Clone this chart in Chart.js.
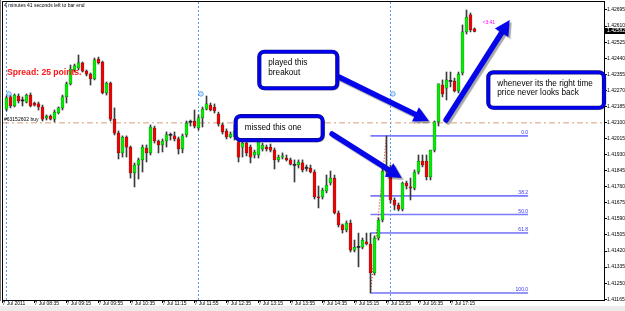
<!DOCTYPE html>
<html>
<head>
<meta charset="utf-8">
<title>EURUSD M5 - 7 Jul 2011</title>
<script src="https://cdn.jsdelivr.net/npm/chart.js@4.4.1/dist/chart.umd.min.js"></script>
<style>
html, body { margin: 0; padding: 0; background: #fff; }
#box { position: relative; width: 625px; height: 311px; }
</style>
</head>
<body>
<div id="box"><canvas id="chart"></canvas></div>
<script>
// M5 candles, bar 1 = 7 Jul 08:00
var firstBar = 1;

var opens = [
  1.42171, 1.42235, 1.42187, 1.42240, 1.42217, 1.42208, 1.42245, 1.42203, 1.42198, 1.42182,
  1.42124, 1.42134, 1.42118, 1.42150, 1.42177, 1.42235, 1.42304, 1.42378, 1.42388, 1.42415,
  1.42372, 1.42356, 1.42330, 1.42436, 1.42420, 1.42256, 1.42309, 1.42118, 1.42044, 1.41939,
  1.42023, 1.41970, 1.41833, 1.41875, 1.41902, 1.41965, 1.41939, 1.42071, 1.42002, 1.41981,
  1.42002, 1.42034, 1.42029, 1.42013, 1.41960, 1.42034, 1.42103, 1.42108, 1.42071, 1.42124,
  1.42171, 1.42192, 1.42182, 1.42145, 1.42087, 1.42055, 1.42023, 1.42023, 1.41997, 1.41970,
  1.41991, 1.41970, 1.41928, 1.41928, 1.41960, 1.41970, 1.41970, 1.41954, 1.41902, 1.41917,
  1.41912, 1.41902, 1.41875, 1.41875, 1.41886, 1.41859, 1.41859, 1.41838, 1.41706, 1.41706,
  1.41738, 1.41780, 1.41806, 1.41621, 1.41558, 1.41531, 1.41568, 1.41425, 1.41441, 1.41441,
  1.41468, 1.41457, 1.41304, 1.41489, 1.41584, 1.41843, 1.41849, 1.41690, 1.41663, 1.41642,
  1.41780, 1.41759, 1.41753, 1.41838, 1.41896, 1.41896, 1.41812, 1.41954, 1.42103, 1.42298,
  1.42282, 1.42319, 1.42319, 1.42267, 1.42362, 1.42579, 1.42669, 1.42595
];
var highs = [
  1.42240, 1.42245, 1.42251, 1.42251, 1.42235, 1.42251, 1.42256, 1.42208, 1.42208, 1.42192,
  1.42140, 1.42140, 1.42166, 1.42182, 1.42245, 1.42314, 1.42404, 1.42409, 1.42457, 1.42420,
  1.42378, 1.42362, 1.42441, 1.42446, 1.42425, 1.42314, 1.42314, 1.42177, 1.42055, 1.42029,
  1.42029, 1.41976, 1.41886, 1.41912, 1.41981, 1.41981, 1.42087, 1.42081, 1.42007, 1.42013,
  1.42050, 1.42044, 1.42050, 1.42023, 1.42039, 1.42108, 1.42113, 1.42166, 1.42140, 1.42182,
  1.42240, 1.42203, 1.42198, 1.42155, 1.42097, 1.42066, 1.42050, 1.42087, 1.42018, 1.42034,
  1.42002, 1.41981, 1.41954, 1.42002, 1.41991, 1.41981, 1.41986, 1.41965, 1.41928, 1.41939,
  1.41928, 1.41912, 1.41902, 1.41902, 1.41902, 1.41875, 1.41875, 1.41849, 1.41764, 1.41753,
  1.41822, 1.41843, 1.41822, 1.41632, 1.41563, 1.41579, 1.41584, 1.41478, 1.41515, 1.41489,
  1.41515, 1.41515, 1.41500, 1.41595, 1.41859, 1.42029, 1.41875, 1.41701, 1.41674, 1.41785,
  1.41790, 1.41806, 1.41849, 1.41928, 1.41928, 1.41928, 1.41954, 1.42108, 1.42304, 1.42325,
  1.42367, 1.42367, 1.42335, 1.42367, 1.42616, 1.42695, 1.42679, 1.42600
];
var lows = [
  1.42161, 1.42177, 1.42182, 1.42203, 1.42187, 1.42203, 1.42182, 1.42187, 1.42166, 1.42108,
  1.42113, 1.42113, 1.42103, 1.42145, 1.42166, 1.42203, 1.42298, 1.42367, 1.42378, 1.42367,
  1.42346, 1.42298, 1.42325, 1.42409, 1.42251, 1.42245, 1.42108, 1.42034, 1.41907, 1.41917,
  1.41917, 1.41806, 1.41759, 1.41801, 1.41838, 1.41891, 1.41928, 1.41991, 1.41939, 1.41944,
  1.41970, 1.42007, 1.42002, 1.41933, 1.41939, 1.42023, 1.42081, 1.42071, 1.42060, 1.42076,
  1.42166, 1.42161, 1.42150, 1.42081, 1.42039, 1.42013, 1.42018, 1.42007, 1.41891, 1.41917,
  1.41923, 1.41886, 1.41912, 1.41912, 1.41949, 1.41949, 1.41944, 1.41854, 1.41891, 1.41907,
  1.41896, 1.41875, 1.41785, 1.41859, 1.41838, 1.41843, 1.41833, 1.41695, 1.41648, 1.41695,
  1.41727, 1.41769, 1.41616, 1.41547, 1.41515, 1.41521, 1.41415, 1.41415, 1.41336, 1.41431,
  1.41452, 1.41198, 1.41293, 1.41478, 1.41574, 1.41822, 1.41674, 1.41637, 1.41632, 1.41632,
  1.41748, 1.41690, 1.41743, 1.41827, 1.41865, 1.41796, 1.41796, 1.41944, 1.42081, 1.42235,
  1.42219, 1.42288, 1.42261, 1.42256, 1.42351, 1.42568, 1.42579, 1.42579
];
var closes = [
  1.42230, 1.42187, 1.42245, 1.42214, 1.42214, 1.42245, 1.42187, 1.42192, 1.42182, 1.42118,
  1.42134, 1.42118, 1.42155, 1.42177, 1.42235, 1.42304, 1.42383, 1.42399, 1.42415, 1.42372,
  1.42356, 1.42330, 1.42431, 1.42415, 1.42256, 1.42309, 1.42118, 1.42044, 1.41939, 1.42023,
  1.41970, 1.41833, 1.41875, 1.41902, 1.41970, 1.41939, 1.42076, 1.42002, 1.41981, 1.42002,
  1.42034, 1.42032, 1.42013, 1.41960, 1.42029, 1.42097, 1.42101, 1.42081, 1.42124, 1.42171,
  1.42198, 1.42166, 1.42161, 1.42092, 1.42050, 1.42023, 1.42039, 1.42055, 1.41917, 1.41991,
  1.41939, 1.41917, 1.41944, 1.41997, 1.41981, 1.41960, 1.41954, 1.41902, 1.41917, 1.41923,
  1.41902, 1.41880, 1.41873, 1.41891, 1.41849, 1.41857, 1.41838, 1.41706, 1.41701, 1.41743,
  1.41769, 1.41806, 1.41621, 1.41558, 1.41531, 1.41568, 1.41425, 1.41441, 1.41439, 1.41478,
  1.41457, 1.41304, 1.41489, 1.41584, 1.41843, 1.41854, 1.41690, 1.41663, 1.41642, 1.41780,
  1.41764, 1.41753, 1.41838, 1.41896, 1.41875, 1.41812, 1.41954, 1.42103, 1.42304, 1.42251,
  1.42325, 1.42317, 1.42267, 1.42356, 1.42579, 1.42658, 1.42589, 1.42582
];

var xTickBars = [0, 8, 16, 24, 32, 40, 48, 56, 64, 72, 80, 88, 96, 104, 112];
var xTickLabels = ['7 Jul 2011', '7 Jul 08:35', '7 Jul 09:15', '7 Jul 09:55', '7 Jul 10:35',
  '7 Jul 11:15', '7 Jul 11:55', '7 Jul 12:35', '7 Jul 13:15', '7 Jul 13:55', '7 Jul 14:35',
  '7 Jul 15:15', '7 Jul 15:55', '7 Jul 16:35', '7 Jul 17:15'];
var yTickLabels = ['1.42695', '1.42610', '1.42525', '1.42440', '1.42355', '1.42270', '1.42185',
  '1.42100', '1.42015', '1.41930', '1.41845', '1.41760', '1.41675', '1.41590', '1.41505',
  '1.41420', '1.41335', '1.41250', '1.41165'];

var eventBars = [1, 49, 97];
var eventPrice = 1.42251;
var tradePrice = 1.42098;
var fibLevels = [0, 38.2, 50, 61.8, 100];
var fibLowBar = 92, fibHighBar = 96, fibEndBar = 131.4;

var FONT = "'Liberation Sans', Arial, sans-serif";
var xMin = 0.125, xMax = 150.375, yMin = 1.411609, yMax = 1.427373;

// candles -> floating bars
var wickData = [], bullData = [], bearData = [], dojiData = [];
for (var i = 0; i < opens.length; i++) {
  var bx = firstBar + i;
  wickData.push({x: bx, y: [lows[i], highs[i]]});
  var pt = {x: bx, y: [opens[i], closes[i]]};
  var d = closes[i] - opens[i];
  if (Math.abs(d) < 0.00004) dojiData.push(pt);
  else if (d > 0) bullData.push(pt);
  else bearData.push(pt);
}

var fibLow = lows[fibLowBar - firstBar];
var fibHigh = highs[fibHighBar - firstBar];
function fibPrice(lvl) { return fibHigh - (fibHigh - fibLow) * lvl / 100; }

var datasets = [
  {type: 'bar', data: wickData, backgroundColor: '#3a3a3a', barThickness: 1, grouped: false, order: 6},
  {type: 'bar', data: bullData, backgroundColor: '#00f000', borderColor: '#1f3f1f', borderWidth: 0.5,
   borderSkipped: false, barThickness: 3, grouped: false, minBarLength: 1, order: 5},
  {type: 'bar', data: bearData, backgroundColor: '#f00000', borderColor: '#3f1f1f', borderWidth: 0.5,
   borderSkipped: false, barThickness: 3, grouped: false, minBarLength: 1, order: 5},
  {type: 'bar', data: dojiData, backgroundColor: '#222', barThickness: 3, grouped: false, minBarLength: 1, order: 5}
];

// vertical event separators
eventBars.forEach(function(b) {
  datasets.push({type: 'line', data: [{x: b, y: yMin}, {x: b, y: yMax}], borderColor: '#4a9cf5',
    borderWidth: 1, borderDash: [2, 2], pointRadius: 0, order: 10});
});
// open order line
datasets.push({type: 'line', data: [{x: xMin, y: tradePrice}, {x: xMax, y: tradePrice}],
  borderColor: '#d4a080', borderWidth: 1, borderDash: [6, 3, 2, 3], pointRadius: 0, order: 9});
// fibonacci levels
fibLevels.forEach(function(l) {
  datasets.push({type: 'line', data: [{x: fibLowBar, y: fibPrice(l)}, {x: fibEndBar, y: fibPrice(l)}],
    borderColor: l > 55 ? '#2c2cf0' : '#7a7aff', borderWidth: l > 55 ? 1 : 1.6, pointRadius: 0, order: 8});
});
// fibo trend line
datasets.push({type: 'line', data: [{x: fibLowBar, y: fibLow}, {x: fibHighBar, y: fibHigh}],
  borderColor: '#ff0000', borderWidth: 1, borderDash: [1, 2], pointRadius: 0, order: 7});

var callouts = [
  {from: [64.2, 1.42474], to: [83.7, 1.42281], lines: ['played this', 'breakout']},
  {from: [58.3, 1.42134], to: [80.05, 1.42007], lines: ['missed this one']},
  {from: [121.45, 1.42365], to: [150.375, 1.42178], lines: ['whenever its the right time', 'price never looks back']}
];
var arrows = [
  {from: [84.1, 1.42341], to: [106.6, 1.42108]},
  {from: [82.4, 1.42039], to: [99.8, 1.41806]},
  {from: [110.9, 1.42113], to: [126.8, 1.42642]}
];

function roundRect(ctx, x, y, w, h, r) {
  ctx.beginPath();
  ctx.moveTo(x + r, y);
  ctx.arcTo(x + w, y, x + w, y + h, r);
  ctx.arcTo(x + w, y + h, x, y + h, r);
  ctx.arcTo(x, y + h, x, y, r);
  ctx.arcTo(x, y, x + w, y, r);
  ctx.closePath();
}

function drawArrow(ctx, x1, y1, x2, y2) {
  var a = Math.atan2(y2 - y1, x2 - x1);
  var head = 15, half = 8;
  var bx = x2 - head * Math.cos(a), by = y2 - head * Math.sin(a);
  ctx.save();
  ctx.shadowColor = 'rgba(0,0,0,0.35)';
  ctx.shadowOffsetX = 2; ctx.shadowOffsetY = 2; ctx.shadowBlur = 1;
  ctx.strokeStyle = '#0606ea';
  ctx.lineWidth = 5.5;
  ctx.lineCap = 'round';
  ctx.beginPath(); ctx.moveTo(x1, y1); ctx.lineTo(bx, by); ctx.stroke();
  ctx.fillStyle = '#0606ea';
  ctx.beginPath();
  ctx.moveTo(x2, y2);
  ctx.lineTo(bx + half * Math.sin(a), by - half * Math.cos(a));
  ctx.lineTo(bx - half * Math.sin(a), by + half * Math.cos(a));
  ctx.closePath(); ctx.fill();
  ctx.restore();
}

var overlay = {
  id: 'overlay',
  beforeDraw: function(chart) {
    var ctx = chart.ctx;
    ctx.save();
    ctx.fillStyle = '#ffffff';
    ctx.fillRect(0, 0, chart.width, chart.height);
    ctx.fillStyle = '#ececec';
    ctx.fillRect(0, 306, chart.width, chart.height - 306);
    ctx.restore();
  },
  afterDatasetsDraw: function(chart) {
    var ctx = chart.ctx, ca = chart.chartArea;
    var sx = chart.scales.x, sy = chart.scales.y;
    ctx.save();

    // frame
    ctx.strokeStyle = '#000';
    ctx.lineWidth = 1;
    ctx.strokeRect(ca.left - 0.5, ca.top - 0.5, ca.right - ca.left + 1, ca.bottom - ca.top + 1);
    ctx.strokeStyle = '#777';
    ctx.beginPath(); ctx.moveTo(0.5, 0); ctx.lineTo(0.5, ca.bottom + 1); ctx.stroke();

    // small texts
    ctx.textBaseline = 'middle';
    ctx.textAlign = 'left';
    ctx.fillStyle = '#000';
    ctx.font = '5px ' + FONT;
    ctx.fillText('4 minutes 41 seconds left to bar end', ca.left + 1, ca.top + 3.5);
    var ty = sy.getPixelForValue(tradePrice);
    ctx.fillText('#63152602 buy', ca.left + 1, ty - 3);

    ctx.fillStyle = '#ff1414';
    ctx.font = 'bold 8.6px ' + FONT;
    ctx.fillText('Spread: 25 points.', ca.left + 4, 73);

    // event markers
    eventBars.forEach(function(b) {
      var ex = sx.getPixelForValue(b) + 2.5, ey = sy.getPixelForValue(eventPrice);
      ctx.strokeStyle = '#4a9cf5';
      ctx.lineWidth = 1;
      ctx.beginPath(); ctx.arc(ex, ey, 2.2, 0, Math.PI * 2); ctx.stroke();
      ctx.fillStyle = '#4a9cf5';
      ctx.fillRect(ex - 0.5, ey - 0.5, 1, 1);
    });

    // fib labels
    ctx.fillStyle = '#3434f4';
    ctx.font = '5px ' + FONT;
    ctx.textAlign = 'right';
    ctx.textBaseline = 'bottom';
    fibLevels.forEach(function(l) {
      ctx.fillText(l.toFixed(1), sx.getPixelForValue(fibEndBar), sy.getPixelForValue(fibPrice(l)) - 0.5);
    });

    // bar timer near last candle
    ctx.textAlign = 'left';
    ctx.textBaseline = 'middle';
    ctx.fillStyle = '#ff00ff';
    ctx.fillText('<3:41', sx.getPixelForValue(opens.length + firstBar + 1), sy.getPixelForValue(1.42626));

    // arrows
    arrows.forEach(function(a) {
      drawArrow(ctx, sx.getPixelForValue(a.from[0]), sy.getPixelForValue(a.from[1]),
        sx.getPixelForValue(a.to[0]), sy.getPixelForValue(a.to[1]));
    });

    // callouts
    callouts.forEach(function(c) {
      var x0 = sx.getPixelForValue(c.from[0]), y0 = sy.getPixelForValue(c.from[1]);
      var x1 = sx.getPixelForValue(c.to[0]), y1 = sy.getPixelForValue(c.to[1]);
      ctx.save();
      ctx.shadowColor = 'rgba(0,0,0,0.35)';
      ctx.shadowOffsetX = 2; ctx.shadowOffsetY = 2; ctx.shadowBlur = 1;
      roundRect(ctx, x0, y0, x1 - x0, y1 - y0, 5);
      ctx.fillStyle = '#fff';
      ctx.fill();
      ctx.restore();
      roundRect(ctx, x0, y0, x1 - x0, y1 - y0, 5);
      ctx.strokeStyle = '#10107a';
      ctx.lineWidth = 4.2;
      ctx.stroke();
      ctx.strokeStyle = '#0000f4';
      ctx.lineWidth = 2.8;
      ctx.stroke();
      ctx.fillStyle = '#000';
      ctx.font = '8.2px ' + FONT;
      ctx.textAlign = 'left';
      ctx.textBaseline = 'middle';
      var h = y1 - y0;
      c.lines.forEach(function(t, j) {
        var yy = c.lines.length === 1 ? y0 + h / 2 : y0 + 11 + j * 9.5;
        ctx.fillText(t, x0 + 9, yy);
      });
    });

    // current price box
    var cp = closes[closes.length - 1];
    var cy = sy.getPixelForValue(cp);
    ctx.fillStyle = '#000';
    ctx.fillRect(ca.right + 1, Math.round(cy) - 3, chart.width - ca.right - 1, 6);
    ctx.fillStyle = '#fff';
    ctx.font = '5px ' + FONT;
    ctx.fillText(cp.toFixed(5), ca.right + 3, Math.round(cy));

    ctx.restore();
  }
};

new Chart(document.getElementById('chart'), {
  data: {datasets: datasets},
  options: {
    animation: false,
    responsive: true,
    maintainAspectRatio: false,
    devicePixelRatio: 1,
    events: [],
    layout: {padding: {left: 3, top: 2, right: 0, bottom: 0}},
    plugins: {legend: {display: false}, tooltip: {enabled: false}},
    scales: {
      x: {
        type: 'linear', position: 'bottom', min: xMin, max: xMax, offset: false,
        grid: {display: true, drawOnChartArea: false, drawTicks: true, tickLength: 3, color: '#000', offset: false},
        border: {display: false},
        ticks: {
          autoSkip: false, maxRotation: 0, minRotation: 0, align: 'start', padding: -2,
          color: '#000', font: {family: FONT, size: 5},
          callback: function(v, i) { return xTickLabels[i]; }
        },
        afterBuildTicks: function(s) { s.ticks = xTickBars.map(function(v) { return {value: v}; }); },
        afterFit: function(s) { s.height = 11; s.paddingLeft = 0; s.paddingRight = 0; }
      },
      y: {
        type: 'linear', position: 'right', min: yMin, max: yMax,
        grid: {display: true, drawOnChartArea: false, drawTicks: true, tickLength: 3, color: '#000'},
        border: {display: false},
        ticks: {
          padding: 0, color: '#000', font: {family: FONT, size: 5},
          callback: function(v, i) { return yTickLabels[i]; }
        },
        afterBuildTicks: function(s) { s.ticks = yTickLabels.map(function(t) { return {value: parseFloat(t)}; }); },
        afterFit: function(s) { s.width = 21; s.paddingTop = 0; s.paddingBottom = 0; }
      }
    }
  },
  plugins: [overlay]
});
</script>
</body>
</html>
